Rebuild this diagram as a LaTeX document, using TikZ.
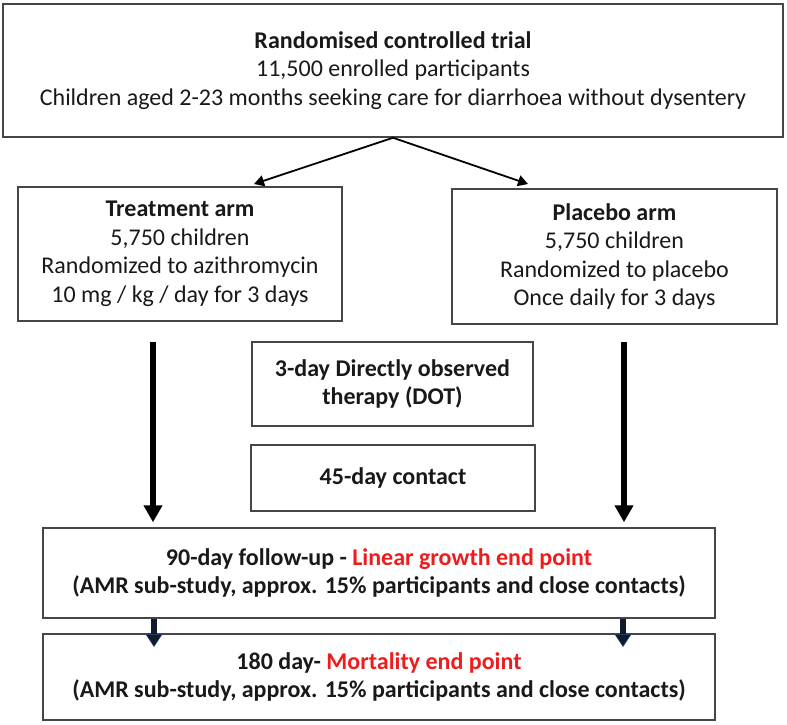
\documentclass[tikz,border=0pt]{standalone}
\usepackage{fontspec}
\setmainfont{Carlito}
\usetikzlibrary{arrows.meta}
\definecolor{boxline}{RGB}{70,70,70}
\definecolor{endred}{RGB}{238,28,28}
\definecolor{navy}{RGB}{16,26,44}
\definecolor{navyedge}{RGB}{40,70,120}
\begin{document}
\begin{tikzpicture}[x=1pt,y=-1pt,
  box/.style={draw=boxline,line width=1.5pt,rectangle,inner sep=0pt,align=center,
    font=\fontsize{24}{28.5}\selectfont,text=black!90},
  boldbox/.style={box,font=\fontsize{24}{28.5}\selectfont\bfseries},
  thin/.style={draw=black,line width=1.8pt,-{Triangle[width=11pt,length=10pt]}},
  thick/.style={draw=black,line width=5.5pt,-{Triangle[width=18pt,length=17pt]}},
  small/.style={draw=navy,line width=6.5pt,-{Triangle[width=17pt,length=13pt,fill=navy,color=navyedge,line width=0.6pt]}}]
\useasboundingbox (0,0) rectangle (787,724);
\node[box,minimum width=780pt,minimum height=133pt] (top) at (393,70.5)
  {\textbf{Randomised controlled trial}\\11,500 enrolled participants\\Children aged 2-23 months seeking care for diarrhoea without dysentery};
\node[box,minimum width=324pt,minimum height=134pt] (treat) at (180,254)
  {\textbf{Treatment arm}\\5,750 children\\Randomized to azithromycin\\10 mg / kg / day for 3 days};
\node[box,minimum width=325pt,minimum height=135pt] (plac) at (614.5,256.5)
  {\textbf{Placebo arm}\\5,750 children\\Randomized to placebo\\Once daily for 3 days};
\node[boldbox,minimum width=281pt,minimum height=84pt] (dot) at (392.5,384)
  {3-day Directly observed\\therapy (DOT)};
\node[boldbox,minimum width=284pt,minimum height=66pt] (c45) at (393,478)
  {45-day contact};
\node[boldbox,minimum width=672pt,minimum height=90pt] (d90) at (379,573)
  {90-day follow-up - \textcolor{endred}{Linear growth end point}\\(AMR sub-study, approx. 15\% participants and close contacts)};
\node[boldbox,minimum width=672pt,minimum height=86pt] (d180) at (379,677)
  {180 day- \textcolor{endred}{Mortality end point}\\(AMR sub-study, approx. 15\% participants and close contacts)};
\coordinate (tl) at (254,184);
\coordinate (tr) at (528,184);
\draw[thin] (top.south) -- (tl);
\draw[thin] (top.south) -- (tr);
\coordinate (la) at (153,342);
\coordinate (ra) at (624,342);
\draw[thick] (la) -- ([yshift=5pt]la |- d90.north);
\draw[thick] (ra) -- ([yshift=5pt]ra |- d90.north);
\coordinate (lb) at (154,647);
\coordinate (rb) at (623,647);
\draw[small] (lb |- d90.south) -- (lb);
\draw[small] (rb |- d90.south) -- (rb);
\end{tikzpicture}
\end{document}
